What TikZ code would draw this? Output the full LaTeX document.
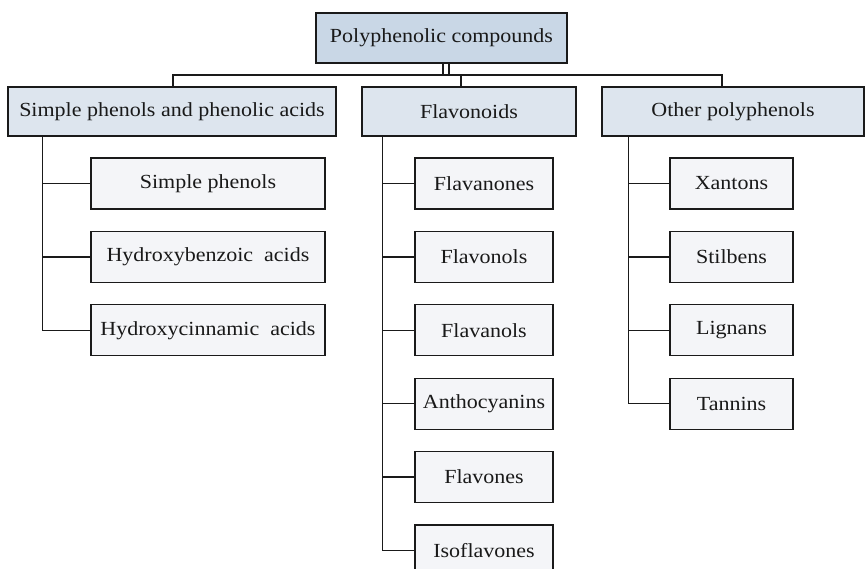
\documentclass[tikz,border=0pt]{standalone}
\usepackage{fontspec}
\setmainfont{Liberation Serif}[FakeStretch=1.1]
\usetikzlibrary{positioning}
\definecolor{RootFill}{HTML}{C9D7E6}
\definecolor{GroupFill}{HTML}{DDE5EE}
\definecolor{ItemFill}{HTML}{F4F5F8}
\definecolor{LineGray}{HTML}{1A1A1A}

\begin{document}
\begin{tikzpicture}[x=1pt,y=-1pt,node distance=21pt,
 base/.style={draw=LineGray,line width=1.4pt,inner sep=0pt,align=center,
              font=\fontsize{20}{24}\selectfont,text=black!90},
 root/.style={base,fill=RootFill,minimum width=251pt,minimum height=50pt},
 group/.style={base,fill=GroupFill,minimum height=49pt},
 item/.style={base,fill=ItemFill,minimum height=51pt},
 itemA/.style={item,minimum width=234pt},
 itemB/.style={item,minimum width=138pt},
 itemC/.style={item,minimum width=123pt},
 link/.style={draw=LineGray,line width=1.4pt}]
\useasboundingbox (0,0) rectangle (865,569);

\node[root] (poly) at (441.5,38) {Polyphenolic compounds};

\node[group,minimum width=328pt] (simple) at (172,111.5) {Simple phenols and phenolic acids};
\node[group,minimum width=214pt] (flav) at (469,111.5) {Flavonoids};
\node[group,minimum width=262pt] (other) at (733,111.5) {Other polyphenols};

% simple phenols and acids
\node[itemA] (sp) at (208,183.5) {Simple phenols};
\node[itemA,below=of sp] (hb) {Hydroxybenzoic\hspace{.55em}acids};
\node[itemA,below=of hb] (hc) {Hydroxycinnamic\hspace{.55em}acids};

% flavonoids
\node[itemB] (fa) at (484,183.5) {Flavanones};
\node[itemB,below=of fa] (fo) {Flavonols};
\node[itemB,below=of fo] (fl) {Flavanols};
\node[itemB,below=of fl] (an) {Anthocyanins};
\node[itemB,below=of an] (fv) {Flavones};
\node[itemB,below=of fv] (iso) {Isoflavones};

% other polyphenols
\node[itemC] (xa) at (731.5,183.5) {Xantons};
\node[itemC,below=of xa] (st) {Stilbens};
\node[itemC,below=of st] (li) {Lignans};
\node[itemC,below=of li] (ta) {Tannins};

% top bus
\coordinate (busL) at (173,75);
\coordinate (busM) at (461,75);
\coordinate (busR) at (722,75);
\draw[link] ([xshift=1.5pt]poly.south) -- ([xshift=1.5pt]poly.south |- busL);
\draw[link] ([xshift=7.5pt]poly.south) -- ([xshift=7.5pt]poly.south |- busL);
\draw[link] (simple.north -| busL) -- (busL) -- (busR) -- (other.north -| busR);
\draw[link] (busM) -- (flav.north -| busM);

% trunks
\coordinate (tA) at ([xshift=35pt]simple.south west);
\coordinate (tB) at ([xshift=21pt]flav.south west);
\coordinate (tC) at ([xshift=27pt]other.south west);
\draw[link] (tA) |- (hc.west);
\draw[link] (tB) |- (iso.west);
\draw[link] (tC) |- (ta.west);
\foreach \n in {sp,hb}
  \draw[link] (\n.west -| tA) -- (\n.west);
\foreach \n in {fa,fo,fl,an,fv}
  \draw[link] (\n.west -| tB) -- (\n.west);
\foreach \n in {xa,st,li}
  \draw[link] (\n.west -| tC) -- (\n.west);
\end{tikzpicture}
\end{document}
